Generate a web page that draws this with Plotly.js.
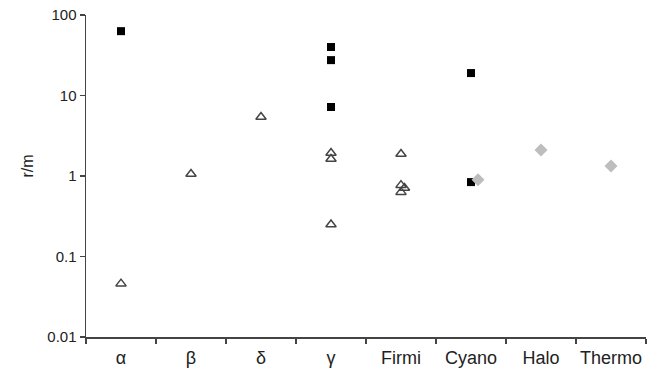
<!DOCTYPE html>
<html><head><meta charset="utf-8">
<script src="https://cdn.plot.ly/plotly-3.0.1.min.js"></script>
<style>html,body{margin:0;padding:0;background:#fff}#c{width:656px;height:376px}</style>
</head><body><div id="c"></div>
<script>
const categories = ["α","β","δ","γ","Firmi","Cyano","Halo","Thermo"];
// black squares
const sqX = [0, 3, 3, 3, 5, 5];
const sqY = [63, 40, 27.5, 7.2, 19, 0.84];
// open triangles
const triX = [0, 1, 2, 3, 3, 3, 4, 4, 4.05, 4];
const triY = [0.046, 1.06, 5.4, 1.93, 1.63, 0.25, 1.88, 0.77, 0.71, 0.63];
// grey diamonds
const diaX = [5.1, 6, 7];
const diaY = [0.9, 2.1, 1.33];
const yTickVals = [0.01, 0.1, 1, 10, 100];
const yTickText = ["0.01", "0.1", "1", "10", "100"];
const yTitle = "r/m";

const boundaries = [];
for (let i = -0.5; i <= categories.length - 0.5; i += 1) boundaries.push(i);

const traces = [
  {x: triX, y: triY, type: "scatter", mode: "markers",
   marker: {symbol: "triangle-up-open", size: 9, color: "#444", line: {width: 1.5, color: "#444"}}, cliponaxis: false},
  {x: sqX, y: sqY, type: "scatter", mode: "markers",
   marker: {symbol: "square", size: 8, color: "#000"}, cliponaxis: false},
  {x: diaX, y: diaY, type: "scatter", mode: "markers",
   marker: {symbol: "diamond", size: 10, color: "#bdbdbd"}, cliponaxis: false},
  {x: categories.map((_, i) => i), y: categories.map(() => 1), type: "scatter", mode: "markers",
   xaxis: "x2", marker: {opacity: 0}, hoverinfo: "skip", showlegend: false}
];

const layout = {
  width: 656, height: 376,
  margin: {l: 86, r: 10, t: 15, b: 39},
  showlegend: false,
  paper_bgcolor: "#fff", plot_bgcolor: "#fff",
  font: {family: "Liberation Sans, Arial, sans-serif", color: "#222"},
  xaxis: {
    range: [-0.5, categories.length - 0.5], tickvals: boundaries, showticklabels: false,
    ticks: "outside", ticklen: 5, tickcolor: "#444", tickwidth: 1.5,
    showline: true, linecolor: "#444", linewidth: 1.5, showgrid: false, zeroline: false
  },
  xaxis2: {
    overlaying: "x", range: [-0.5, categories.length - 0.5],
    tickvals: categories.map((_, i) => i), ticktext: categories,
    showline: false, showgrid: false, zeroline: false, ticks: "",
    tickfont: {size: 18, color: "#222"}, side: "bottom", anchor: "y", ticklabelstandoff: 8
  },
  yaxis: {
    type: "log", range: [-2, 2], tickvals: yTickVals, ticktext: yTickText,
    ticks: "outside", ticklen: 5, tickcolor: "#444", tickwidth: 1.5,
    showline: true, linecolor: "#444", linewidth: 1.5, showgrid: false, zeroline: false,
    tickfont: {size: 15, color: "#222"}
  },
  annotations: [{
    text: yTitle, textangle: -90, showarrow: false,
    xref: "paper", yref: "paper", x: -0.105, y: 0.53, xanchor: "center", yanchor: "middle",
    font: {size: 16, color: "#222"}
  }]
};
Plotly.newPlot("c", traces, layout, {displayModeBar: false, staticPlot: true});
</script></body></html>
